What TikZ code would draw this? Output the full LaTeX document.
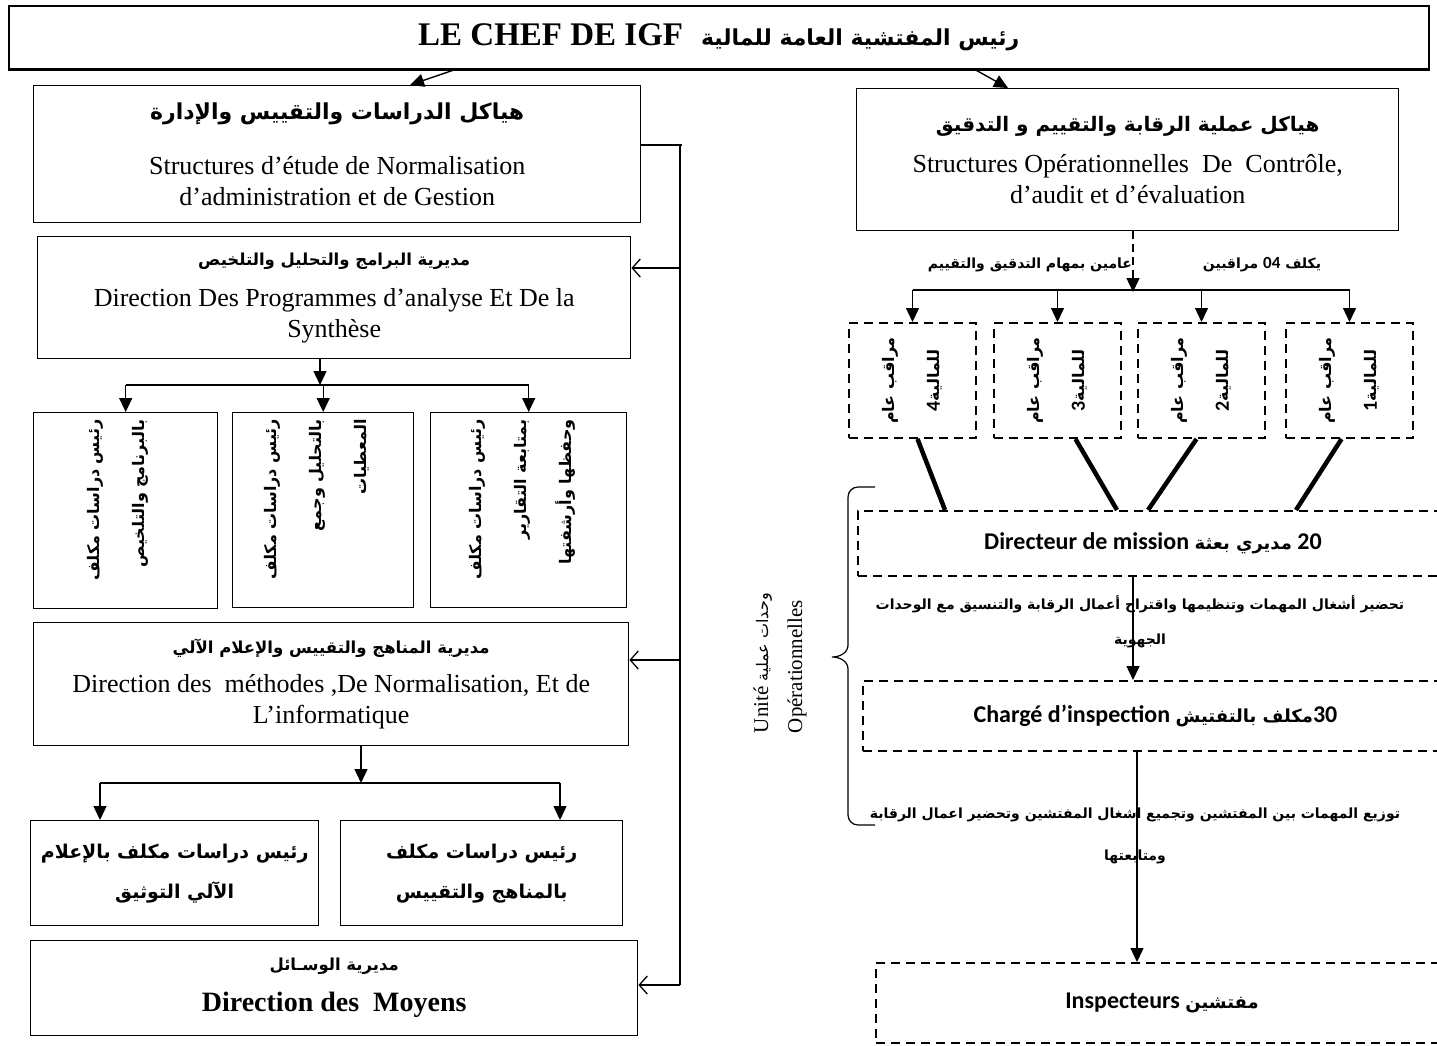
\documentclass[tikz,border=0pt]{standalone}
\usepackage{fontspec}
\setmainfont{Liberation Serif}
\newfontfamily\arabicfont[Script=Arabic]{DejaVu Sans}
\newfontfamily\calfont{Carlito}
\TeXXeTstate=1
\usetikzlibrary{arrows.meta,calc}
\newcommand{\artxt}[1]{{\arabicfont\beginR #1\endR}}
\newcommand{\frsize}{\fontsize{26}{31}\selectfont}
\tikzset{
  box/.style={draw, line width=1.4pt, align=center, inner sep=0pt, anchor=north west, font=\frsize},
  dbox/.style={draw, line width=2pt, dash pattern=on 9pt off 6pt, inner sep=0pt, align=center, anchor=north west},
  arr/.style={line width=1.4pt, -{Triangle[length=14pt,width=13pt]}},
  barb/.style={line width=1.3pt, -{Straight Barb[length=8pt,width=18pt]}},
  thickl/.style={line width=4.5pt},
  vtext/.style={rotate=90, font=\fontsize{16}{45}\selectfont\arabicfont\bfseries},
}
\begin{document}
\begin{tikzpicture}[x=1pt,y=-1pt]
\useasboundingbox (0,0) rectangle (1437,1045);

\node[box, line width=1.6pt, minimum width=1420pt, minimum height=63pt] (chef) at (8,5)
  {{\fontsize{33}{36}\selectfont\bfseries LE CHEF DE IGF}\hspace{18pt}{\fontsize{22}{24}\selectfont\arabicfont\bfseries\beginR رئيس المفتشية العامة للمالية\endR}};
\draw[line width=2.6pt] (chef.south west) -- (chef.south east);

% left side
\node[box, minimum width=607pt, minimum height=137pt] (etudes) at (33,85)
  {{\fontsize{22}{31}\selectfont\arabicfont\bfseries\beginR هياكل الدراسات والتقييس والإدارة\endR}\\[24pt]
   Structures d’étude de Normalisation\\ d’administration et de Gestion};
\node[box, minimum width=593pt, minimum height=122pt] (progr) at (37,236)
  {{\fontsize{16.5}{31}\selectfont\arabicfont\bfseries\beginR مديرية البرامج والتحليل والتلخيص\endR}\\[10pt]
   Direction Des Programmes d’analyse Et De la\\ Synthèse};

\node[box, minimum width=184pt, minimum height=196pt] (rp1) at (33,412) {};
\node[box, minimum width=181pt, minimum height=195pt] (rp2) at (232,412) {};
\node[box, minimum width=196pt, minimum height=195pt] (rp3) at (430,412) {};
\node[vtext, align=right, text width=182pt] at ([xshift=-8pt]rp1.center)
  {\artxt{رئيس دراسات مكلف}\\ \artxt{بالبرنامج والتلخيص}};
\node[vtext, align=right, text width=182pt] at ([xshift=-6pt]rp2.center)
  {\artxt{رئيس دراسات مكلف}\\ \artxt{بالتحليل وجمع}\\ \artxt{المعطيات}};
\node[vtext, align=right, text width=182pt] at ([xshift=-6pt]rp3.center)
  {\artxt{رئيس دراسات مكلف}\\ \artxt{بمتابعة التقارير}\\ \artxt{وحفظها وأرشفتها}};

\node[box, minimum width=595pt, minimum height=123pt] (methodes) at (33,622)
  {{\fontsize{16.5}{31}\selectfont\arabicfont\bfseries\beginR مديرية المناهج والتقييس والإعلام الآلي\endR}\\[8pt]
   Direction des\ \ méthodes ,De Normalisation, Et de\\ L’informatique};
\node[box, minimum width=288pt, minimum height=105pt, font=\fontsize{19}{40}\selectfont\arabicfont\bfseries] (rm1) at (30,820)
  {\artxt{رئيس دراسات مكلف بالإعلام}\\ \artxt{الآلي التوثيق}};
\node[box, minimum width=282pt, minimum height=105pt, font=\fontsize{19}{40}\selectfont\arabicfont\bfseries] (rm2) at (340,820)
  {\artxt{رئيس دراسات مكلف}\\ \artxt{بالمناهج والتقييس}};
\node[box, minimum width=607pt, minimum height=95pt] (moyens) at (30,940)
  {{\fontsize{16.5}{31}\selectfont\arabicfont\bfseries\beginR مديرية الوسـائل\endR}\\[10pt]
   \bfseries\fontsize{28}{31}\selectfont Direction des\ \ Moyens};

\draw[arr] (chef.south west -| 455,0) -- (etudes.north -| 410,0);
\draw[line width=1.3pt] (etudes.east |- 0,145) -- (682,145);
\draw[line width=1.3pt] (680,145) coordinate (bus) -- (bus |- 0,985);
\draw[barb] (bus |- 0,268) -- (progr.east |- 0,268);
\draw[barb] (bus |- 0,660) -- (methodes.east |- 0,660);
\draw[barb] (bus |- 0,985) -- (moyens.east |- 0,985);

\draw[arr] (progr.south -| 320,0) -- (320,385);
\draw[line width=1.4pt] (rp1.north |- 0,385) -- (rp3.north |- 0,385);
\foreach \b in {rp1,rp2,rp3}
  \draw[arr] (\b.north |- 0,385) -- (\b.north);

\draw[arr] (methodes.south -| 361,0) -- (361,783);
\draw[line width=1.4pt] (100,783) -- (560,783);
\draw[arr] (100,783) -- (rm1.north -| 100,0);
\draw[arr] (560,783) -- (rm2.north -| 560,0);

% right side
\node[box, minimum width=542pt, minimum height=142pt] (operat) at (856,88)
  {{\fontsize{20}{31}\selectfont\arabicfont\bfseries\beginR هياكل عملية الرقابة والتقييم و التدقيق\endR}\\[10pt]
   Structures Opérationnelles\ \ De\ \ Contrôle,\\ d’audit et d’évaluation};
\draw[arr] (chef.south -| 975,0) -- (operat.north -| 1008,0);

\draw[arr, dash pattern=on 8pt off 5pt] (operat.south -| 1133,0) -- (1133,292);
\node[font=\fontsize{14}{16}\selectfont\arabicfont\bfseries] (lblA) at (1030,265) {\artxt{عامين بمهام التدقيق والتقييم}};
\node[font=\fontsize{14}{16}\selectfont\arabicfont\bfseries] (lblB) at (1262,265)
  {\artxt{يكلف \beginL{\calfont\fontsize{17}{16}\selectfont 04}\endL{} مراقبين}};

\foreach \n/\x/\k in {mr4/848/4, mr3/993/3, mr2/1137/2, mr1/1285/1}{
  \node[dbox, minimum width=127pt, minimum height=115pt] (\n) at (\x,322) {};
  \node[vtext, align=center, text width=110pt] at (\n.center)
    {\artxt{مراقب عام}\\ \artxt{للمالية\beginL{\calfont\bfseries\fontsize{20}{20}\selectfont\k}\endL}};
}
\draw[line width=1.4pt] (mr4.north |- 0,290) -- (mr1.north |- 0,290);
\foreach \b in {mr1,mr2,mr3,mr4}
  \draw[arr] (\b.north |- 0,290) -- (\b.north);

\node[dbox, minimum width=590pt, minimum height=65pt, font=\fontsize{24}{28}\selectfont\calfont\bfseries] (dirmis) at (857,510)
  {Directeur de mission \artxt{\fontsize{18}{28}\selectfont مديري بعثة} 20};
\draw[thickl] ([xshift=5pt]mr4.south) -- (dirmis.north -| 945,0);
\draw[thickl] ([xshift=18pt]mr3.south) -- (dirmis.north -| 1117,0);
\draw[thickl] ([xshift=-5pt]mr2.south) -- (dirmis.north -| 1148,0);
\draw[thickl] ([xshift=-8pt]mr1.south) -- (dirmis.north -| 1296,0);

\node[align=center, font=\fontsize{14}{35}\selectfont\arabicfont\bfseries] (tache1) at (1140,622)
  {\artxt{تحضير أشغال المهمات وتنظيمها واقتراح أعمال الرقابة والتنسيق مع الوحدات}\\ \artxt{الجهوية}};

\node[dbox, minimum width=585pt, minimum height=70pt, font=\fontsize{24}{28}\selectfont\calfont\bfseries] (charge) at (862,680)
  {Chargé d’inspection \artxt{\fontsize{18}{28}\selectfont مكلف بالتفتيش}30};
\draw[arr] (dirmis.south -| 1133,0) -- (charge.north -| 1133,0);

\node[align=center, font=\fontsize{14}{42}\selectfont\arabicfont\bfseries] (tache2) at (1135,836)
  {\artxt{توزيع المهمات بين المفتشين وتجميع اشغال المفتشين وتحضير اعمال الرقابة}\\ \artxt{ومتابعتها}};

\node[dbox, minimum width=572pt, minimum height=80pt, font=\fontsize{24}{28}\selectfont\calfont\bfseries] (inspect) at (875,962)
  {Inspecteurs \artxt{\fontsize{18}{28}\selectfont مفتشين}};
\draw[arr] (charge.south -| 1137,0) -- (inspect.north -| 1137,0);

% bracket
\draw[line width=1.2pt] (875,487) -- (858,487) to[out=180,in=90] (848,497) -- (848,645)
  to[out=-90,in=0] (832,657) to[out=0,in=90] (848,669) -- (848,815) to[out=-90,in=180] (858,825) -- (875,825);
\node[rotate=90, align=left, font=\fontsize{21}{34}\selectfont] (unite) at (780,663)
  {Unité \artxt{\fontsize{16}{20}\selectfont وحدات عملية}\\ Opérationnelles};
\end{tikzpicture}
\end{document}
